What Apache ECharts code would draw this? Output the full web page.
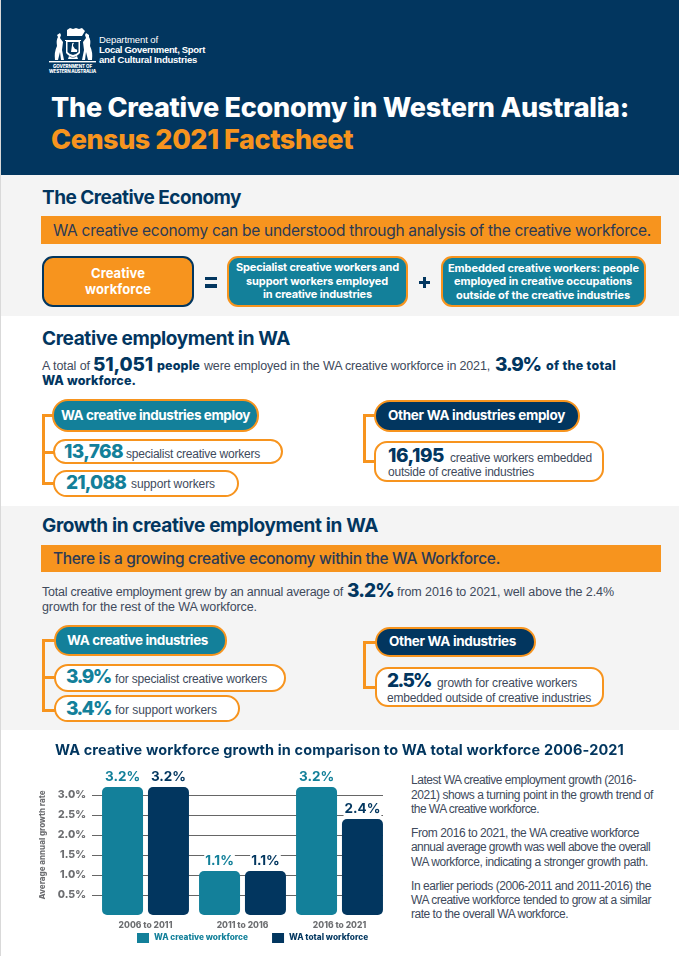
<!doctype html>
<html>
<head>
    <meta charset="UTF-8">
    <title>The Creative Economy in Western Australia</title>
    <script src="https://cdn.jsdelivr.net/npm/echarts@6/dist/echarts.min.js"></script>
    <style>
        html, body { margin: 0; padding: 0; background: #fff; }
        #page { position: relative; width: 679px; height: 956px; overflow: hidden; }
        #page div { position: absolute; box-sizing: border-box; }
        .t { white-space: nowrap; }
        #main { left: 0; top: 740px; width: 400px; height: 216px; }
        #logo { position: absolute; left: 48px; top: 27px; z-index: 2; }
    </style>
</head>
<body>
<div id="page">
    <svg id="logo" width="50" height="38" viewBox="0 0 50 38" fill="#fff">
        <rect x="1" y="34" width="47" height="1.4"/>
        <path d="M19 3 l3 -2 l3 1 l3 -1 l3 1 l3 -1 l3 3 l-3 5 l-15 0 z"/>
        <path d="M17 13 h16 v1 h-1 l0 12 q-7 8 -14 0 l0 -12 h-1 z M19.5 15 v10 q5.5 6 11 0 v-10 z" fill-rule="evenodd"/>
        <path d="M21 29 q4 3 8 0 l1 3 h-10 z"/>
        <path d="M24 18 q0 -3 2 -2 q-1 1 -1 3 l2 3 q3 0 2 3 h-6 z"/>
        <path d="M9 8 l3 -2 l1 2 l-1 3 l3 4 l-1 8 l2 10 h-3 l-1 -8 l-2 8 h-3 q-1 -8 2 -14 q-1 -6 1 -9 z"/>
        <path d="M41 8 l-3 -2 l-1 2 l1 3 l-3 4 l1 8 l-2 10 h3 l1 -8 l2 8 h4 q1 -8 -2 -14 q1 -6 -1 -9 z"/>
    </svg>
    <div id="main"></div>
</div>

<script>
    // chart values
    var periods = ['2006 to 2011', '2011 to 2016', '2016 to 2021'];
    var creativeWorkforce = [3.2, 1.1, 3.2];
    var totalWorkforce = [3.2, 1.1, 2.4];
    var valueTicks = [0.5, 1, 1.5, 2, 2.5, 3];

    var NAVY = '#02365f', TEAL = '#13809a', ORANGE = '#f7941e', GREY = '#f4f4f4';
    var INK = '#404a5c', ORANGE_INK = '#2b3a55', LABEL_GREY = '#6d6e71';
    var HEAD = 'Inter, "Noto Sans", sans-serif', BODY = '"Liberation Sans", Arial, sans-serif';
    var NUM = 19;

    var page = document.getElementById('page');
    var chartDiv = document.getElementById('main');

    function box(x1, y1, x2, y2, bg, border, radius) {
        var d = document.createElement('div');
        d.style.cssText = 'left:' + x1 + 'px;top:' + y1 + 'px;width:' + (x2 - x1) + 'px;height:' + (y2 - y1) + 'px;background:' + bg + ';' +
            (border ? 'border:' + border + ';' : '') + (radius ? 'border-radius:' + radius + 'px;' : '');
        page.insertBefore(d, chartDiv);
    }

    // text run from x1 to x2 around centre line cy, spacing is fitted to the width
    function txt(s, x1, x2, cy, size, weight, color, font) {
        var d = document.createElement('div');
        d.className = 't';
        d.textContent = s;
        d.style.cssText = 'left:' + x1 + 'px;top:' + (cy - size / 2) + 'px;font:' + weight + ' ' + size + 'px/' + size + 'px ' + (font || BODY) + ';color:' + color + ';';
        page.appendChild(d);
        var w = d.getBoundingClientRect().width;
        d.style.letterSpacing = ((x2 - x1 - w) / s.length).toFixed(3) + 'px';
    }

    function pill(x1, y1, x2, y2, bg, radius) {
        box(x1, y1, x2, y2, bg, '2.5px solid ' + ORANGE, radius);
    }

    // section backgrounds
    box(0, 0, 679, 175, NAVY);
    box(0, 175, 679, 316, GREY);
    box(0, 506, 679, 730, GREY);
    box(0, 0, 1, 956, '#d9d9d9');

    // header
    txt('Department of', 99, 158, 39.5, 9.5, 400, '#fff');
    txt('Local Government, Sport', 99, 205, 50, 9.5, 700, '#fff');
    txt('and Cultural Industries', 99, 197, 60, 9.5, 700, '#fff');
    txt('GOVERNMENT OF', 53, 92, 67, 4.5, 800, '#fff', HEAD);
    txt('WESTERN AUSTRALIA', 49, 96, 72, 4.5, 800, '#fff', HEAD);
    txt('The Creative Economy in Western Australia:', 51, 629, 107, 27, 800, '#fff', HEAD);
    txt('Census 2021 Factsheet', 51, 353, 139, 27, 800, ORANGE, HEAD);

    // the creative economy
    txt('The Creative Economy', 42, 241, 197, 19, 700, NAVY, HEAD);
    box(41, 216, 661, 244, ORANGE);
    txt('WA creative economy can be understood through analysis of the creative workforce.', 53, 651, 230.5, 15.5, 400, ORANGE_INK, HEAD);

    box(42, 256, 194, 307, ORANGE, '2px solid ' + NAVY, 11);
    txt('Creative', 91, 145, 273, 13, 700, '#fff', HEAD);
    txt('workforce', 85, 151, 289.5, 13, 700, '#fff', HEAD);
    box(204.5, 276.5, 216.5, 280, NAVY);
    box(204.5, 284, 216.5, 287.5, NAVY);
    pill(227, 256, 408, 307, TEAL, 11);
    txt('Specialist creative workers and', 236, 399, 267.5, 11, 700, '#fff', HEAD);
    txt('support workers employed', 246, 388, 281, 11, 700, '#fff', HEAD);
    txt('in creative industries', 263, 372, 294.5, 11, 700, '#fff', HEAD);
    box(419, 280.5, 430, 283.5, NAVY);
    box(423, 276.5, 426, 287.5, NAVY);
    pill(441, 256, 646, 307, TEAL, 11);
    txt('Embedded creative workers: people', 448, 639, 268, 11, 700, '#fff', HEAD);
    txt('employed in creative occupations', 454, 632, 281.5, 11, 700, '#fff', HEAD);
    txt('outside of the creative industries', 456, 630, 295, 11, 700, '#fff', HEAD);

    // creative employment
    txt('Creative employment in WA', 42, 290, 338, 19, 700, NAVY, HEAD);
    txt('A total of', 42, 90, 366, 12.5, 400, INK);
    txt('51,051', 93, 153, 364.5, NUM, 800, NAVY, HEAD);
    txt('people', 157, 200, 366, 12.5, 800, NAVY, HEAD);
    txt('were employed in the WA creative workforce in 2021,', 204, 490, 366, 12.5, 400, INK);
    txt('3.9%', 495, 541, 364.5, NUM, 800, NAVY, HEAD);
    txt('of the total', 546, 616, 366, 12.5, 800, NAVY, HEAD);
    txt('WA workforce.', 42, 136, 381, 12.5, 800, NAVY, HEAD);

    box(42, 414, 45, 484.5, ORANGE);
    box(42, 414, 54, 417, ORANGE);
    box(42, 451, 54, 454, ORANGE);
    box(42, 481.5, 54, 484.5, ORANGE);
    pill(52, 399, 259, 432, TEAL, 16);
    txt('WA creative industries employ', 61, 250, 416, 13.5, 700, '#fff', HEAD);
    pill(53, 439, 283, 464, '#fff', 12.5);
    txt('13,768', 64, 123, 451.7, NUM, 800, TEAL, HEAD);
    txt('specialist creative workers', 126, 260, 454, 12, 400, INK);
    pill(53, 470, 239, 497, '#fff', 13.5);
    txt('21,088', 66, 126, 482.5, NUM, 800, TEAL, HEAD);
    txt('support workers', 131, 215, 484, 12, 400, INK);

    box(363, 414, 366, 462.5, ORANGE);
    box(363, 414, 376, 417, ORANGE);
    box(363, 459.5, 376, 462.5, ORANGE);
    pill(374, 400, 580, 432, NAVY, 16);
    txt('Other WA industries employ', 388, 565, 416, 13.5, 700, '#fff', HEAD);
    pill(374, 441, 604, 482, '#fff', 13);
    txt('16,195', 388, 444, 455.7, NUM, 800, NAVY, HEAD);
    txt('creative workers embedded', 450, 592, 458, 12, 400, INK);
    txt('outside of creative industries', 388, 534, 472, 12, 400, INK);

    // growth
    txt('Growth in creative employment in WA', 42, 378, 525, 19, 700, NAVY, HEAD);
    box(41, 545, 661, 572, ORANGE);
    txt('There is a growing creative economy within the WA Workforce.', 53, 500, 558.5, 15.5, 500, ORANGE_INK, HEAD);
    txt('Total creative employment grew by an annual average of', 42, 343, 592, 12.5, 400, INK);
    txt('3.2%', 347, 394, 590.5, NUM, 800, NAVY, HEAD);
    txt('from 2016 to 2021, well above the 2.4%', 397, 614, 592, 12.5, 400, INK);
    txt('growth for the rest of the WA workforce.', 42, 257, 607, 12.5, 400, INK);

    box(42, 639, 45, 711.5, ORANGE);
    box(42, 639, 56, 642, ORANGE);
    box(42, 676, 56, 679, ORANGE);
    box(42, 708.5, 56, 711.5, ORANGE);
    pill(54, 625, 227, 656, TEAL, 15);
    txt('WA creative industries', 67, 208, 640.5, 13.5, 700, '#fff', HEAD);
    pill(54, 664, 286, 692, '#fff', 14);
    txt('3.9%', 66, 111, 676.7, NUM, 800, TEAL, HEAD);
    txt('for specialist creative workers', 115, 267, 679, 12, 400, INK);
    pill(54, 695, 240, 722, '#fff', 13.5);
    txt('3.4%', 66, 111, 708, NUM, 800, TEAL, HEAD);
    txt('for support workers', 115, 217, 710, 12, 400, INK);

    box(363, 641, 366, 688.5, ORANGE);
    box(363, 641, 377, 644, ORANGE);
    box(363, 685.5, 377, 688.5, ORANGE);
    pill(375, 627, 536, 657, NAVY, 15);
    txt('Other WA industries', 389, 516, 642, 13.5, 700, '#fff', HEAD);
    pill(375, 667, 604, 707, '#fff', 13);
    txt('2.5%', 387, 431, 680.7, NUM, 800, NAVY, HEAD);
    txt('growth for  creative workers', 437, 577, 683, 12, 400, INK);
    txt('embedded outside of creative industries', 387, 591, 698, 12, 400, INK);

    // chart title and side text
    txt('WA creative workforce growth in comparison to WA total workforce 2006-2021', 55, 624, 750, 14.5, 700, NAVY, HEAD);
    txt('Latest WA creative employment growth (2016-', 411, 636, 780, 12, 400, INK);
    txt('2021) shows a turning point in the growth trend of', 411, 653, 794.5, 12, 400, INK);
    txt('the WA creative workforce.', 411, 539, 809, 12, 400, INK);
    txt('From 2016 to 2021, the WA creative workforce', 411, 639, 833, 12, 400, INK);
    txt('annual average growth was well above the overall', 411, 650, 847, 12, 400, INK);
    txt('WA workforce, indicating a stronger growth path.', 411, 648, 862, 12, 400, INK);
    txt('In earlier periods (2006-2011 and 2011-2016) the', 411, 651, 885.5, 12, 400, INK);
    txt('WA creative workforce tended to grow at a similar', 411, 651, 899.5, 12, 400, INK);
    txt('rate to the overall WA workforce.', 411, 568, 914, 12, 400, INK);

    // bars sit 5px to the right of the gridlines, so the gridlines get their own grid
    var myChart = echarts.init(chartDiv);

    function barLabel(color) {
        return {
            show: true,
            position: 'top',
            distance: 3,
            formatter: function (p) { return p.value.toFixed(1) + '%'; },
            color: color,
            fontFamily: HEAD,
            fontWeight: 700,
            fontSize: 13.5,
            lineHeight: 14,
            backgroundColor: '#fff',
            padding: [0, 1]
        };
    }

    myChart.setOption({
        animation: false,
        grid: [
            { left: 92, top: 35, width: 291, height: 140 },
            { left: 97, top: 35, width: 291, height: 140 }
        ],
        xAxis: [
            { gridIndex: 0, type: 'category', data: periods, show: false },
            {
                gridIndex: 1,
                type: 'category',
                data: periods,
                axisLine: { show: false },
                axisTick: { show: false },
                axisLabel: { margin: 6, color: LABEL_GREY, fontFamily: HEAD, fontWeight: 800, fontSize: 8.5 }
            }
        ],
        yAxis: [
            {
                gridIndex: 0,
                type: 'value',
                min: 0,
                max: 3.5,
                interval: 0.5,
                name: 'Average annual growth rate',
                nameLocation: 'middle',
                nameRotate: 90,
                nameGap: 38,
                nameTextStyle: { color: LABEL_GREY, fontFamily: HEAD, fontWeight: 800, fontSize: 8 },
                axisLine: { show: false },
                axisTick: { show: false },
                axisLabel: {
                    margin: 6,
                    color: LABEL_GREY,
                    fontFamily: HEAD,
                    fontWeight: 800,
                    fontSize: 10.5,
                    formatter: function (v) { return valueTicks.indexOf(v) < 0 ? '' : v.toFixed(1) + '%'; }
                },
                splitLine: { show: true, showMinLine: false, showMaxLine: false, lineStyle: { color: '#666', width: 1 } }
            },
            { gridIndex: 1, type: 'value', min: 0, max: 3.5, interval: 0.5, show: false, splitLine: { show: false } }
        ],
        legend: {
            left: 137,
            top: 193,
            padding: 0,
            itemWidth: 12,
            itemHeight: 10,
            itemGap: 24,
            itemStyle: { borderWidth: 0 },
            textStyle: { fontFamily: HEAD, fontWeight: 800, fontSize: 8.3 },
            data: [
                { name: 'WA creative workforce', icon: 'rect', textStyle: { color: TEAL } },
                { name: 'WA total workforce', icon: 'rect', textStyle: { color: NAVY } }
            ]
        },
        series: [
            {
                name: 'WA creative workforce',
                type: 'bar',
                xAxisIndex: 1,
                yAxisIndex: 1,
                data: creativeWorkforce,
                barWidth: 41,
                barGap: '12%',
                itemStyle: { color: TEAL, borderRadius: 5 },
                label: barLabel(TEAL)
            },
            {
                name: 'WA total workforce',
                type: 'bar',
                xAxisIndex: 1,
                yAxisIndex: 1,
                data: totalWorkforce,
                barWidth: 41,
                barGap: '12%',
                itemStyle: { color: NAVY, borderRadius: 5 },
                label: barLabel(NAVY)
            }
        ]
    });
</script>
</body>
</html>
